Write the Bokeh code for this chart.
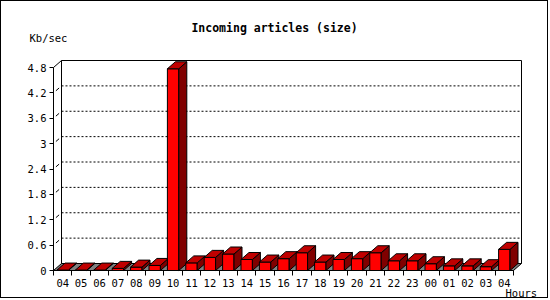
from bokeh.plotting import figure
from bokeh.models import Range1d, FixedTicker, Label, ColumnDataSource
from bokeh.embed import file_html
from bokeh.resources import INLINE

# ---- data ----
hours = ["04", "05", "06", "07", "08", "09", "10", "11", "12", "13", "14", "15",
         "16", "17", "18", "19", "20", "21", "22", "23", "00", "01", "02", "03", "04"]
values = [0.01, 0.01, 0.01, 0.05, 0.08, 0.12, 4.77, 0.18, 0.31, 0.39, 0.26, 0.20,
          0.28, 0.42, 0.20, 0.26, 0.28, 0.42, 0.23, 0.23, 0.16, 0.11, 0.11, 0.09, 0.50]
y_ticks = [0, 0.6, 1.2, 1.8, 2.4, 3.0, 3.6, 4.2, 4.8]
y_tick_labels = ["0", "0.6", "1.2", "1.8", "2.4", "3", "3.6", "4.2", "4.8"]
title_text = "Incoming articles (size)"
y_unit = "Kb/sec"
x_unit = "Hours"

# ---- geometry (style) ----
N = len(hours)
YMAX = y_ticks[-1]
W, H = 548, 298           # canvas (plus 1px CSS border = 550x300)
OX, OY = 52, 269          # canvas pixel of the data origin
PXX = 18.4                # px per category
PXY = 42.29               # px per unit
DX = 8 / PXX              # 3D depth offset
DY = 7 / PXY
BW = 0.62                 # bar width in categories
MONO = "DejaVu Sans Mono"


def dx(px):   # page x pixel -> data x
    return (px - 1 - OX) / PXX


def dy(py):   # page y pixel -> data y
    return (OY - (py - 1)) / PXY


p = figure(width=W, height=H,
           x_range=Range1d(-OX / PXX, (W - OX) / PXX),
           y_range=Range1d(-(H - OY) / PXY, OY / PXY),
           output_backend="svg", toolbar_location=None,
           min_border=0, min_border_left=0, min_border_right=0,
           min_border_top=0, min_border_bottom=0)
p.styles = {"border": "1px solid black"}
p.xgrid.visible = False
p.ygrid.visible = False
p.outline_line_color = None
p.background_fill_color = "white"
p.border_fill_color = "white"
p.title.visible = False

# floor
p.patch([0, N, N + DX, DX], [0, 0, DY, DY], fill_color="#808080",
        line_color="black", line_width=1)
# back wall
p.line([DX, DX, N + DX, N + DX], [DY, YMAX + DY, YMAX + DY, DY], line_color="black", line_width=1)
# side wall top edge
p.line([0, DX], [YMAX, YMAX + DY], line_color="black", line_width=1)

# dotted grid on back wall
gt = y_ticks[1:-1]
p.segment(x0=[DX] * len(gt), y0=[t + DY for t in gt], x1=[N + DX] * len(gt),
          y1=[t + DY for t in gt], line_color="black", line_dash="2 2", line_width=1)
# short diagonal tick marks on side wall
p.segment(x0=[0.3 * DX] * len(gt), y0=[t + 0.3 * DY for t in gt],
          x1=[0.7 * DX] * len(gt), y1=[t + 0.7 * DY for t in gt],
          line_color="black", line_width=1)

# 3D bars
xs, ys, cols = [], [], []
for i, v in enumerate(values):
    c = i + 0.5
    l, r = c - BW / 2, c + BW / 2
    xs.append([l, r, r, l]); ys.append([0, 0, v, v]); cols.append("#ff0000")
    xs.append([r, r + DX, r + DX, r]); ys.append([0, DY, v + DY, v]); cols.append("#800000")
    xs.append([l, r, r + DX, l + DX]); ys.append([v, v, v + DY, v + DY]); cols.append("#c00000")
src = ColumnDataSource(dict(xs=xs, ys=ys, c=cols))
p.patches("xs", "ys", source=src, fill_color="c", line_color="black", line_width=1)

# axes (fixed at the data origin)
ya = p.yaxis[0]
ya.fixed_location = 0
ya.ticker = FixedTicker(ticks=y_ticks)
ya.major_label_overrides = {t: s for t, s in zip(y_ticks, y_tick_labels)}
ya.bounds = (0, YMAX)
ya.major_tick_in = 0
ya.major_tick_out = 4
ya.minor_tick_line_color = None
ya.major_label_standoff = 3
ya.major_label_text_font = MONO
ya.major_label_text_font_size = "10.5px"
ya.major_label_text_color = "black"
ya.axis_line_color = "black"

centers = [i + 0.5 for i in range(N)]
xa = p.xaxis[0]
xa.fixed_location = 0
xa.ticker = FixedTicker(ticks=centers, minor_ticks=list(range(N + 1)))
xa.major_label_overrides = {c: h for c, h in zip(centers, hours)}
xa.bounds = (0, N)
xa.major_tick_in = 0
xa.major_tick_out = 0
xa.major_tick_line_color = None
xa.minor_tick_in = 0
xa.minor_tick_out = 5
xa.minor_tick_line_color = "black"
xa.major_label_standoff = 3
xa.major_label_text_font = MONO
xa.major_label_text_font_size = "10.5px"
xa.major_label_text_color = "black"
xa.axis_line_color = "black"

# texts
p.add_layout(Label(x=dx(274), y=dy(27), text=title_text,
                   text_font=MONO, text_font_size="11.5px", text_font_style="bold",
                   text_align="center", text_baseline="middle", text_color="black"))
p.add_layout(Label(x=dx(29), y=dy(37), text=y_unit,
                   text_font=MONO, text_font_size="10.5px",
                   text_align="left", text_baseline="middle", text_color="black"))
p.add_layout(Label(x=dx(505), y=dy(292), text=x_unit,
                   text_font=MONO, text_font_size="10.5px",
                   text_align="left", text_baseline="middle", text_color="black"))

open("out.html", "w").write(file_html(p, INLINE))
